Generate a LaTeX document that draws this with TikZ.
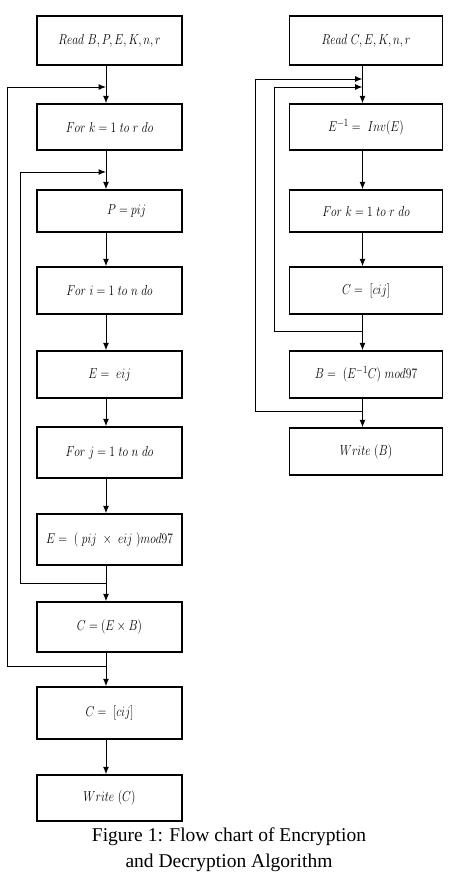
\documentclass[tikz,border=0pt]{standalone}
\usepackage{fontspec}
\usepackage{graphicx}
\usetikzlibrary{arrows.meta}
\newfontfamily\capfont{Liberation Serif}
\newcommand{\bt}[1]{\scalebox{0.8}[1]{\fontsize{15}{17}\selectfont$#1$}}
\begin{document}
\begin{tikzpicture}[x=1pt,y=-1pt,
  fbox/.style={draw,line width=1.4pt,inner sep=0pt,anchor=center},
  lbox/.style={fbox,minimum width=145pt},
  rbox/.style={fbox,minimum width=153pt},
  arr/.style={line width=1pt,-{Latex[length=7.5pt,width=6pt]}}]
\fill[white] (0,0) rectangle (452,876);
\useasboundingbox (0,0) rectangle (452,876);
% left column
\node[lbox,minimum height=49pt] (l1) at (109.5,40.5) {\bt{Read\ B, P, E, K, n, r}};
\node[lbox,minimum height=46pt] (l2) at (109.5,127) {\bt{For\ k = 1\ to\ r\ do}};
\node[lbox,minimum height=42pt] (l3) at (109.5,211) {\hspace*{34pt}\bt{P = pij}};
\node[lbox,minimum height=47pt] (l4) at (109.5,290.5) {\bt{For\ i = 1\ to\ n\ do}};
\node[lbox,minimum height=47pt] (l5) at (109.5,374.5) {\bt{E =\ eij}};
\node[lbox,minimum height=51pt] (l6) at (109.5,452.5) {\bt{For\ j = 1\ to\ n\ do}};
\node[lbox,minimum height=51pt] (l7) at (109.5,539.5) {\bt{E =\ (\ pij\ \times\ eij\ )mod97}};
\node[lbox,minimum height=50pt] (l8) at (109.5,627) {\bt{C = (E \times B)}};
\node[lbox,minimum height=52pt] (l9) at (109.5,713) {\bt{C =\ [cij]}};
\node[lbox,minimum height=46pt] (l10) at (109.5,798) {\bt{Write\ (C)}};
% right column
\node[rbox,minimum height=49pt] (r1) at (366,40.5) {\bt{Read\ C, E, K, n, r}};
\node[rbox,minimum height=46pt] (r2) at (366,127) {\bt{E^{-1} =\ Inv(E)}};
\node[rbox,minimum height=42pt] (r3) at (366,211) {\bt{For\ k = 1\ to\ r\ do}};
\node[rbox,minimum height=47pt] (r4) at (366,290.5) {\bt{C =\ [cij]}};
\node[rbox,minimum height=47pt] (r5) at (366,374.5) {\bt{B =\ (E^{-1}C)\ mod97}};
\node[rbox,minimum height=47pt] (r6) at (366,451.5) {\bt{Write\ (B)}};
% vertical arrows
\foreach \a/\b in {l1/l2,l2/l3,l3/l4,l4/l5,l5/l6,l6/l7,l7/l8,l8/l9,l9/l10,r1/r2,r2/r3,r3/r4,r4/r5,r5/r6}
  \draw[arr] ([xshift=-3.5pt]\a.south) -- ([xshift=-3.5pt]\b.north);
% loop coordinates
\coordinate (lo) at (106,666);
\coordinate (lot) at (106,87);
\coordinate (li) at (106,583);
\coordinate (lit) at (106,172);
\coordinate (ro) at (362.5,411);
\coordinate (rot) at (362.5,79);
\coordinate (ri) at (362.5,331);
\coordinate (rit) at (362.5,87);
\draw[arr] (lo) -- (7,666) -- (7,87) -- (lot);
\draw[arr] (li) -- (20,583) -- (20,172) -- (lit);
\draw[arr] (ro) -- (255,411) -- (255,79) -- (rot);
\draw[arr] (ri) -- (274,331) -- (274,87) -- (rit);
% caption
\node[align=center,font=\capfont\fontsize{19.5}{26}\selectfont] (cap) at (229,850)
  {Figure 1: Flow chart of Encryption\\and Decryption Algorithm};
\end{tikzpicture}
\end{document}
